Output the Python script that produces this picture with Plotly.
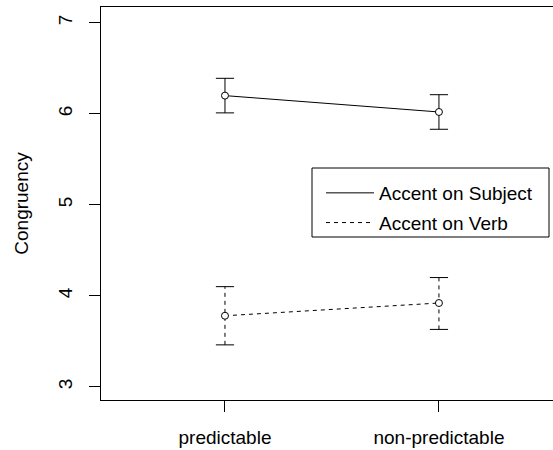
import plotly.graph_objects as go

categories = ["predictable", "non-predictable"]
x_pos = [1, 2]
series_names = ["Accent on Subject", "Accent on Verb"]
subject_mean = [6.20, 6.02]
subject_upper = [6.39, 6.21]
subject_lower = [6.01, 5.83]
verb_mean = [3.78, 3.92]
verb_upper = [4.10, 4.20]
verb_lower = [3.46, 3.63]
y_ticks = [3, 4, 5, 6, 7]

FONT = "Liberation Sans, Arial, sans-serif"
fig = go.Figure()

series = [
    (series_names[0], subject_mean, subject_lower, subject_upper, "solid"),
    (series_names[1], verb_mean, verb_lower, verb_upper, "4px,4px"),
]

for name, mean, lo, hi, dash in series:
    ex, ey = [], []
    for xv, l, h in zip(x_pos, lo, hi):
        ex += [xv, xv, None]
        ey += [l, h, None]
    fig.add_trace(go.Scatter(x=ex, y=ey, mode="lines",
                             line=dict(color="black", width=1, dash=dash),
                             showlegend=False, hoverinfo="skip"))
    fig.add_trace(go.Scatter(x=x_pos + x_pos, y=lo + hi, mode="markers",
                             marker=dict(symbol="line-ew", size=13,
                                         line=dict(color="black", width=1)),
                             showlegend=False, hoverinfo="skip"))
    fig.add_trace(go.Scatter(x=x_pos, y=mean, mode="lines+markers",
                             line=dict(color="black", width=1, dash=dash),
                             marker=dict(symbol="circle", size=7, color="white",
                                         line=dict(color="black", width=1)),
                             showlegend=False))
    fig.add_trace(go.Scatter(x=[None], y=[None], mode="lines", name=name,
                             line=dict(color="black", width=1, dash=dash),
                             legendgroup=name))

fig.update_layout(
    width=553, height=450,
    margin=dict(l=101, r=0, t=7, b=50),
    paper_bgcolor="white", plot_bgcolor="white",
    font=dict(family=FONT, size=19, color="black"),
    showlegend=True,
    legend=dict(x=(321 - 101) / 452, y=1 - (174 - 7) / 393,
                xanchor="left", yanchor="top",
                bgcolor="rgba(0,0,0,0)", borderwidth=0,
                font=dict(family=FONT, size=19, color="black"),
                itemwidth=48, traceorder="grouped", tracegroupgap=2),
    shapes=[dict(type="rect", xref="paper", yref="paper",
                 x0=(312 - 101) / 452, x1=(549 - 101) / 452,
                 y0=1 - (237 - 7) / 393, y1=1 - (168 - 7) / 393,
                 line=dict(color="black", width=1))],
)
fig.update_xaxes(range=[0.4206, 2.533], tickvals=x_pos, ticktext=categories,
                 showline=True, linecolor="black", linewidth=1, mirror=True,
                 ticks="outside", ticklen=11, tickcolor="black",
                 ticklabelstandoff=9,
                 showgrid=False, zeroline=False, automargin=False)
fig.update_yaxes(range=[2.854, 7.174], tickvals=y_ticks, tickangle=-90,
                 showline=True, linecolor="black", linewidth=1, mirror=False,
                 ticks="outside", ticklen=11, tickcolor="black",
                 ticklabelstandoff=9,
                 title=dict(text="Congruency", standoff=21,
                            font=dict(family=FONT, size=19)),
                 showgrid=False, zeroline=False, automargin=False)

fig.write_html("out.html")
